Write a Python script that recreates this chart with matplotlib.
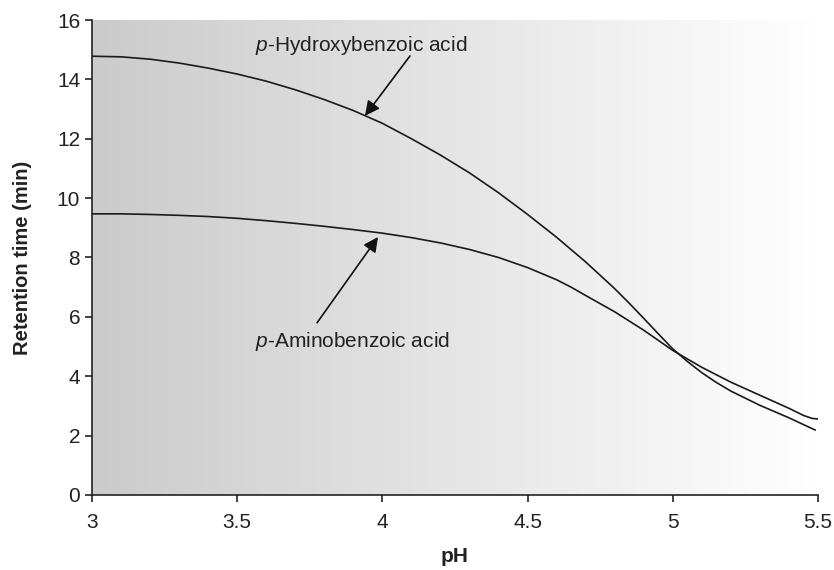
import numpy as np
import matplotlib
matplotlib.use("Agg")
import matplotlib.pyplot as plt
from matplotlib.colors import LinearSegmentedColormap

plt.rcParams['font.family'] = ['Liberation Sans', 'DejaVu Sans']
plt.rcParams['mathtext.fontset'] = 'custom'
plt.rcParams['mathtext.rm'] = 'Liberation Sans'
plt.rcParams['mathtext.it'] = 'Liberation Sans:italic'

# Data
ph_hydroxy = [3.0, 3.1, 3.2, 3.3, 3.4, 3.5, 3.6, 3.7, 3.8, 3.9, 4.0, 4.1, 4.2, 4.3,
              4.4, 4.5, 4.6, 4.7, 4.8, 4.85, 4.9, 4.95, 5.0, 5.05, 5.1, 5.15,
              5.2, 5.3, 5.4, 5.49]
rt_hydroxy = [14.78, 14.76, 14.68, 14.55, 14.38, 14.18, 13.94, 13.65, 13.32, 12.95,
              12.52, 12.0, 11.45, 10.85, 10.18, 9.45, 8.68, 7.85, 6.95, 6.46,
              5.95, 5.43, 4.92, 4.5, 4.12, 3.79, 3.5, 3.02, 2.6, 2.19]

ph_amino = [3.0, 3.1, 3.2, 3.3, 3.4, 3.5, 3.6, 3.7, 3.8, 3.9, 4.0, 4.1, 4.2, 4.3,
            4.4, 4.5, 4.6, 4.65, 4.7, 4.8, 4.9, 5.0, 5.1, 5.2, 5.3, 5.4, 5.45,
            5.48, 5.5]
rt_amino = [9.47, 9.47, 9.45, 9.42, 9.38, 9.32, 9.24, 9.15, 9.05, 8.94, 8.82, 8.67,
            8.49, 8.27, 8.0, 7.66, 7.25, 7.0, 6.72, 6.17, 5.55, 4.87, 4.3, 3.8,
            3.36, 2.92, 2.68, 2.58, 2.56]

x_ticks = [3, 3.5, 4, 4.5, 5, 5.5]
x_ticklabels = ['3', '3.5', '4', '4.5', '5', '5.5']
y_ticks = [0, 2, 4, 6, 8, 10, 12, 14, 16]

fig = plt.figure(figsize=(8.34, 5.70), dpi=100)
ax = fig.add_axes([0.1103, 0.1316, 0.8705, 0.8333])

cmap = LinearSegmentedColormap.from_list('g', ['#cbcbcb', '#ffffff'])
grad = np.linspace(0, 1, 256).reshape(1, -1)
ax.imshow(grad, cmap=cmap, aspect='auto', extent=[3, 5.5, 0, 16], zorder=0,
          interpolation='bilinear')

ax.plot(ph_hydroxy, rt_hydroxy, color='#1a1a1a', lw=1.2, zorder=2,
        solid_joinstyle='round')
ax.plot(ph_amino, rt_amino, color='#1a1a1a', lw=1.2, zorder=2,
        solid_joinstyle='round')

ax.set_xlim(3, 5.5)
ax.set_ylim(0, 16)
ax.set_xticks(x_ticks)
ax.set_xticklabels(x_ticklabels)
ax.set_yticks(y_ticks)

for s in ['top', 'right']:
    ax.spines[s].set_visible(False)
for s in ['left', 'bottom']:
    ax.spines[s].set_color('#222222')
    ax.spines[s].set_linewidth(1.2)
ax.tick_params(direction='out', length=5, width=1.2, colors='#222222',
               labelsize=15, labelcolor='#222222')
ax.tick_params(axis='x', pad=8)

ax.set_xlabel('pH', fontsize=15, fontweight='bold', color='#222222', labelpad=11)
ax.set_ylabel('Retention time (min)', fontsize=14.5, fontweight='bold',
              color='#222222', labelpad=18)

ax.text(3.56, 14.96, r'$\it{p}$-Hydroxybenzoic acid', fontsize=15,
        color='#222222', ha='left', va='baseline', zorder=3)
ax.annotate('', xy=(3.94, 12.77), xytext=(4.095, 14.79),
            arrowprops=dict(arrowstyle='-|>', color='#111111', lw=1.2,
                            mutation_scale=22, shrinkA=0, shrinkB=0), zorder=3)

ax.text(3.56, 4.98, r'$\it{p}$-Aminobenzoic acid', fontsize=15,
        color='#222222', ha='left', va='baseline', zorder=3)
ax.annotate('', xy=(3.985, 8.69), xytext=(3.775, 5.8),
            arrowprops=dict(arrowstyle='-|>', color='#111111', lw=1.2,
                            mutation_scale=22, shrinkA=0, shrinkB=0), zorder=3)

fig.savefig('out.png', dpi=100)
